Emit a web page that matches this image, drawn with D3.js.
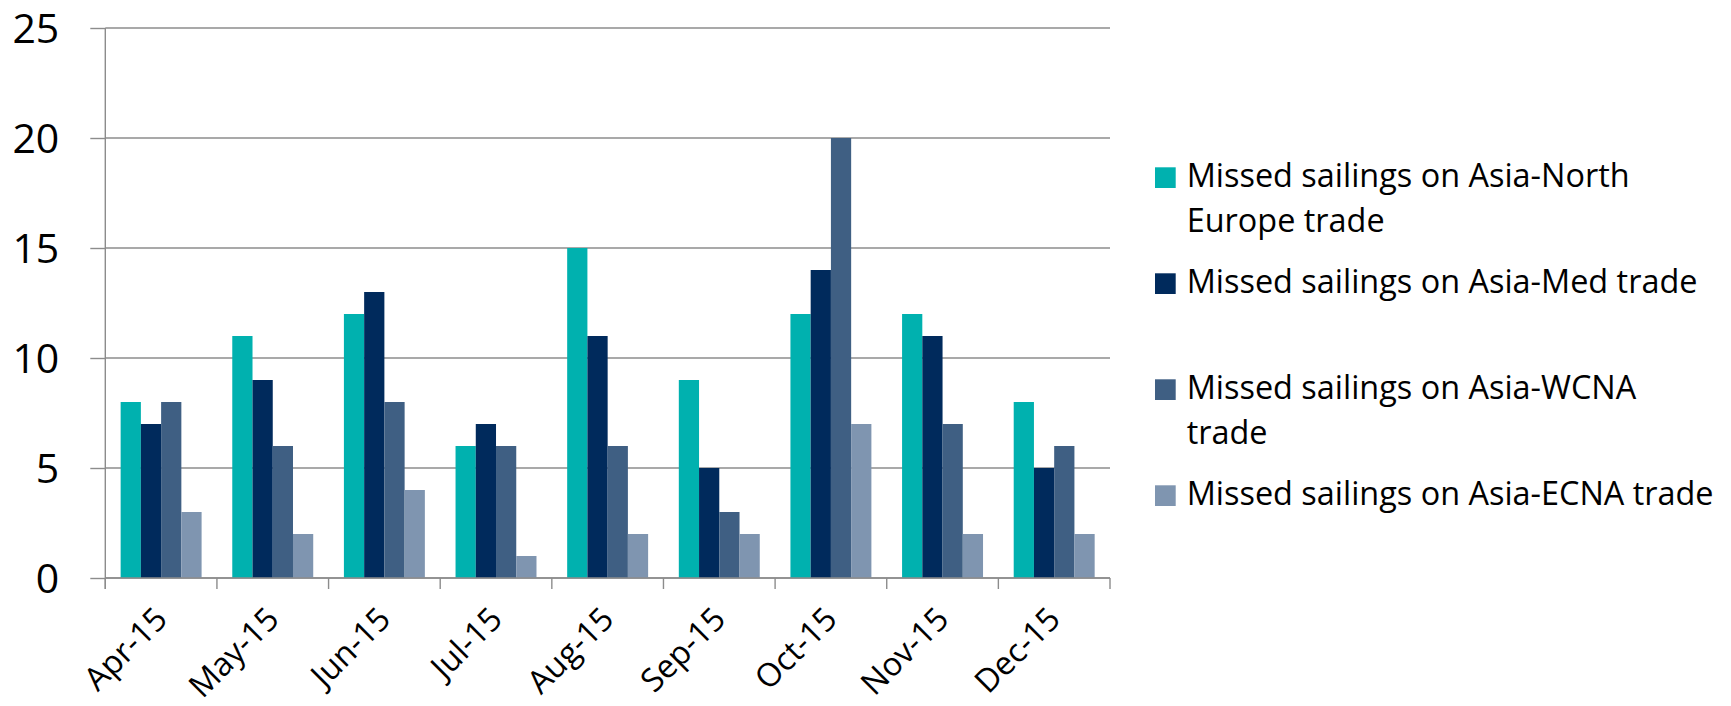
<!DOCTYPE html>
<html>
<head>
<meta charset="utf-8">
<script src="https://cdn.jsdelivr.net/npm/d3@7"></script>
<style>
  html, body { margin: 0; padding: 0; background: #ffffff; }
  svg { display: block; }
  text { font-family: "Open Sans", "Lato", sans-serif; fill: #000; }
</style>
</head>
<body>
<svg id="chart" width="1731" height="706"></svg>
<script>
// ---- data ----
const categories = ["Apr-15", "May-15", "Jun-15", "Jul-15", "Aug-15", "Sep-15", "Oct-15", "Nov-15", "Dec-15"];
const seriesNames = [
  "Missed sailings on Asia-North Europe trade",
  "Missed sailings on Asia-Med trade",
  "Missed sailings on Asia-WCNA trade",
  "Missed sailings on Asia-ECNA trade"
];
const northEurope = [8, 11, 12, 6, 15, 9, 12, 12, 8];
const med         = [7, 9, 13, 7, 11, 5, 14, 11, 5];
const wcna        = [8, 6, 8, 6, 6, 3, 20, 7, 6];
const ecna        = [3, 2, 4, 1, 2, 2, 7, 2, 2];
const yTicks = [0, 5, 10, 15, 20, 25];
const colors = ["#00B1AF", "#002A5C", "#3F5F83", "#7F95B0"];

const seriesValues = [northEurope, med, wcna, ecna];

// ---- layout ----
const svg = d3.select("#chart");
const plot = { left: 105.3, right: 1110, top: 28, bottom: 578 };
const gridColor = "#8c8c8c";
const fontFam = "'Open Sans', Lato, sans-serif";

const y = d3.scaleLinear().domain([0, 25]).range([plot.bottom, plot.top]);
const x0 = d3.scaleBand().domain(categories).range([plot.left, plot.right]).padding(0);
const x1 = d3.scaleBand().domain(d3.range(seriesNames.length)).range([0, x0.bandwidth()])
  .paddingInner(0).paddingOuter(0.758);

// gridlines
svg.append("g").selectAll("line").data(yTicks).join("line")
  .attr("x1", plot.left).attr("x2", plot.right)
  .attr("y1", d => y(d)).attr("y2", d => y(d))
  .attr("stroke", gridColor).attr("stroke-width", 1.4);

// bars
const groups = svg.append("g").selectAll("g").data(categories).join("g")
  .attr("transform", d => `translate(${x0(d)},0)`);
groups.selectAll("rect")
  .data((c, ci) => seriesValues.map((vals, si) => ({ si, v: vals[ci] })))
  .join("rect")
  .attr("x", d => x1(d.si))
  .attr("width", x1.bandwidth())
  .attr("y", d => y(d.v))
  .attr("height", d => y(0) - y(d.v))
  .attr("fill", d => colors[d.si]);

// y axis
const yAxis = svg.append("g").attr("transform", `translate(${plot.left},0)`)
  .call(d3.axisLeft(y).tickValues(yTicks).tickSizeInner(15).tickSizeOuter(0).tickPadding(31).tickFormat(d3.format("d")));
yAxis.selectAll("path, line").attr("stroke", gridColor).attr("stroke-width", 1.4);
yAxis.selectAll("text").style("font-size", "41px").attr("fill", "#000")
  .style("font-family", fontFam).attr("dy", "0.36em");
yAxis.select(".domain").attr("d", `M0,${plot.bottom + 11}V${plot.top}`);

// x axis
const xAxisG = svg.append("g").attr("transform", `translate(0,${plot.bottom})`);
xAxisG.append("line").attr("x1", plot.left).attr("x2", plot.right)
  .attr("y1", 0).attr("y2", 0).attr("stroke", gridColor).attr("stroke-width", 1.4);
const boundaries = categories.map(c => x0(c)).concat([x0(categories[categories.length - 1]) + x0.bandwidth()]);
xAxisG.selectAll("line.tick").data(boundaries).join("line").attr("class", "tick")
  .attr("x1", d => d).attr("x2", d => d).attr("y1", 0).attr("y2", 11)
  .attr("stroke", gridColor).attr("stroke-width", 1.4);

const xAxis = svg.append("g").attr("transform", `translate(0,${plot.bottom})`)
  .call(d3.axisBottom(x0).tickSize(0).tickPadding(0));
xAxis.select(".domain").remove();

// legend
const legend = svg.append("g");
const probe = legend.append("text").style("font-size", "100px").style("font-family", fontFam).text(seriesNames[1]);
const probeW = probe.node().getComputedTextLength();
probe.remove();
const legendFont = 100 * 511 / probeW;

xAxis.selectAll("text")
  .style("font-size", legendFont + "px").attr("fill", "#000")
  .style("font-family", fontFam)
  .attr("text-anchor", "end")
  .attr("x", 0).attr("y", 0).attr("dy", "0.35em")
  .attr("transform", "translate(0,35) rotate(-45)");

const probe2 = legend.append("text").style("font-size", legendFont + "px").style("font-family", fontFam).text(seriesNames[3]);
const wrapW = probe2.node().getComputedTextLength() + 3;
probe2.remove();

function wrapLines(str) {
  const words = str.split(" ");
  const lines = [];
  let cur = "";
  const t = legend.append("text").style("font-size", legendFont + "px").style("font-family", fontFam);
  words.forEach(w => {
    const test = cur ? cur + " " + w : w;
    t.text(test);
    if (t.node().getComputedTextLength() > wrapW && cur) { lines.push(cur); cur = w; }
    else cur = test;
  });
  if (cur) lines.push(cur);
  t.remove();
  return lines;
}

const legendX = 1155, legendTextX = 1186.7, firstBaseline = 187.3, itemStep = 106, lineH = 44.4, sq = 20.7;
seriesNames.forEach((name, i) => {
  const base = firstBaseline + i * itemStep;
  legend.append("rect").attr("x", legendX).attr("y", base - 20).attr("width", sq).attr("height", sq)
    .attr("fill", colors[i]);
  const t = legend.append("text").attr("x", legendTextX).attr("y", base)
    .style("font-size", legendFont + "px").style("font-family", fontFam);
  wrapLines(name).forEach((ln, k) => {
    t.append("tspan").attr("x", legendTextX).attr("y", base + k * lineH).text(ln);
  });
});
</script>
</body>
</html>
